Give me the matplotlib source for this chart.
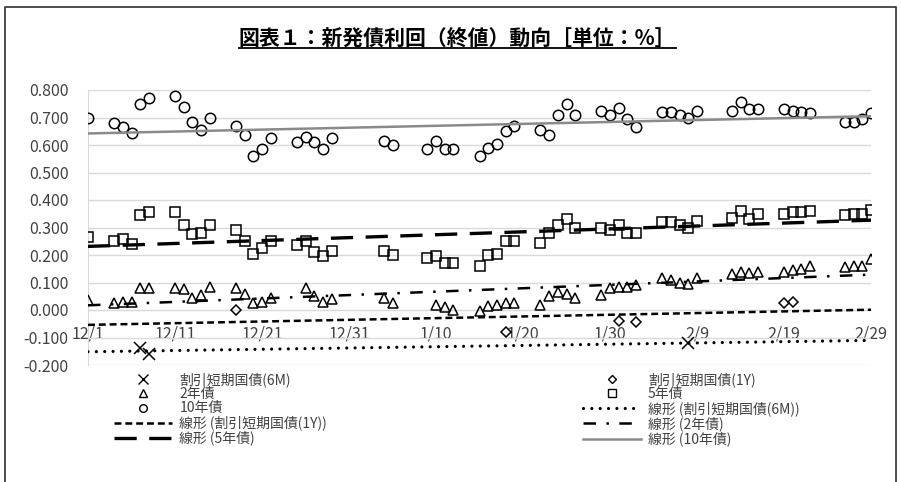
import numpy as np
import pandas as pd
import matplotlib
matplotlib.use('Agg')
import matplotlib.pyplot as plt
import matplotlib.dates as mdates
from matplotlib.lines import Line2D
from matplotlib.ticker import FuncFormatter

plt.rcParams['font.family'] = ['Noto Sans CJK JP', 'DejaVu Sans']
plt.rcParams['lines.scale_dashes'] = False

title = '図表１：新発債利回（終値）動向［単位：%］'

# trading days (month/day), Dec -> Feb
dates = ['12/01', '12/04', '12/05', '12/06', '12/07', '12/08',
         '12/11', '12/12', '12/13', '12/14', '12/15',
         '12/18', '12/19', '12/20', '12/21', '12/22',
         '12/25', '12/26', '12/27', '12/28', '12/29',
         '1/04', '1/05', '1/09', '1/10', '1/11', '1/12',
         '1/15', '1/16', '1/17', '1/18', '1/19',
         '1/22', '1/23', '1/24', '1/25', '1/26',
         '1/29', '1/30', '1/31', '2/01', '2/02',
         '2/05', '2/06', '2/07', '2/08', '2/09',
         '2/13', '2/14', '2/15', '2/16',
         '2/19', '2/20', '2/21', '2/22',
         '2/26', '2/27', '2/28', '2/29']

y10 = [0.700, 0.680, 0.665, 0.645, 0.750, 0.770,
       0.780, 0.740, 0.685, 0.655, 0.700,
       0.670, 0.635, 0.560, 0.585, 0.625,
       0.610, 0.630, 0.610, 0.585, 0.625,
       0.615, 0.600, 0.585, 0.615, 0.585, 0.585,
       0.560, 0.590, 0.605, 0.650, 0.670,
       0.655, 0.635, 0.710, 0.750, 0.710,
       0.725, 0.710, 0.735, 0.695, 0.665,
       0.720, 0.720, 0.710, 0.700, 0.725,
       0.725, 0.755, 0.730, 0.730,
       0.730, 0.725, 0.720, 0.715,
       0.685, 0.685, 0.695, 0.715]

y5 = [0.265, 0.250, 0.260, 0.240, 0.345, 0.355,
      0.355, 0.310, 0.275, 0.280, 0.310,
      0.290, 0.250, 0.205, 0.225, 0.250,
      0.235, 0.250, 0.210, 0.195, 0.215,
      0.215, 0.200, 0.190, 0.195, 0.170, 0.170,
      0.160, 0.200, 0.205, 0.250, 0.250,
      0.245, 0.280, 0.310, 0.330, 0.300,
      0.300, 0.290, 0.310, 0.280, 0.280,
      0.320, 0.320, 0.310, 0.300, 0.325,
      0.335, 0.360, 0.330, 0.350,
      0.350, 0.355, 0.355, 0.360,
      0.345, 0.350, 0.350, 0.365]

y2 = [0.035, 0.025, 0.030, 0.030, 0.080, 0.080,
      0.080, 0.075, 0.045, 0.055, 0.085,
      0.080, 0.060, 0.025, 0.030, 0.045,
      np.nan, 0.080, 0.050, 0.030, 0.040,
      0.045, 0.025, np.nan, 0.020, 0.010, 0.000,
      -0.005, 0.015, 0.020, 0.025, 0.025,
      0.020, 0.050, 0.065, 0.060, 0.045,
      0.055, 0.080, 0.085, 0.085, 0.090,
      0.115, 0.110, 0.100, 0.095, 0.115,
      0.130, 0.140, 0.135, 0.140,
      0.140, 0.145, 0.150, 0.160,
      0.155, 0.160, 0.160, 0.185]

bill6m_dates = ['12/07', '12/08', '2/08']
bill6m = [-0.138, -0.160, -0.120]

bill1y_dates = ['12/18', '1/18', '1/31', '2/02', '2/19', '2/20']
bill1y = [0.000, -0.080, -0.040, -0.045, 0.025, 0.030]

lbl_6m = '割引短期国債(6M)'
lbl_1y = '割引短期国債(1Y)'
lbl_2y = '2年債'
lbl_5y = '5年債'
lbl_10y = '10年債'


def to_dt(md):
    m, d = md.split('/')
    year = 2015 if m == '12' else 2016
    return pd.Timestamp(year=year, month=int(m), day=int(d))


x_main = [to_dt(s) for s in dates]
x_6m = [to_dt(s) for s in bill6m_dates]
x_1y = [to_dt(s) for s in bill1y_dates]
x_start, x_end = pd.Timestamp('2015-12-01'), pd.Timestamp('2016-02-29')

fig = plt.figure(figsize=(9.01, 4.82), dpi=100)
ax = fig.add_axes([88 / 901, 1 - 365 / 482, 783 / 901, 275 / 482])

mk = dict(linestyle='none', mfc='none', mec='black', mew=1.1)
ax.plot(x_6m, bill6m, marker='x', ms=8, **mk, zorder=3)
ax.plot(x_1y, bill1y, marker='D', ms=5, **mk, zorder=3)
ax.plot(x_main, y2, marker='^', ms=7.5, **mk, zorder=3)
ax.plot(x_main, y5, marker='s', ms=7.5, **mk, zorder=3)
ax.plot(x_main, y10, marker='o', ms=7.5, **mk, zorder=3)

# linear trend lines (least squares on date)
trend_styles = {
    '6m': dict(color='black', lw=2.3, dashes=(0.01, 6.0), dash_capstyle='round'),
    '1y': dict(color='black', lw=1.8, dashes=(5.0, 2.8)),
    '2y': dict(color='black', lw=1.8, dashes=(9.0, 7.5, 1.8, 7.5)),
    '5y': dict(color='black', lw=2.4, dashes=(16.0, 9.0)),
    '10y': dict(color='#8a8a8a', lw=1.8),
}
series = {
    '6m': (x_6m, bill6m),
    '1y': (x_1y, bill1y),
    '2y': (x_main, y2),
    '5y': (x_main, y5),
    '10y': (x_main, y10),
}
xe = mdates.date2num([x_start, x_end])
for key, (xs, ys) in series.items():
    xn = mdates.date2num(xs)
    ya = np.array(ys, dtype=float)
    ok = ~np.isnan(ya)
    k, b = np.polyfit(xn[ok], ya[ok], 1)
    ax.plot(xe, k * xe + b, zorder=4, **trend_styles[key])

ax.set_xlim(mdates.date2num(x_start), mdates.date2num(x_end))
ax.set_ylim(-0.2, 0.8)
ax.set_yticks(np.arange(-0.2, 0.81, 0.1))
ax.yaxis.set_major_formatter(FuncFormatter(lambda v, p: f'{v:.3f}'))
ax.set_xticks(pd.date_range(x_start, x_end, freq='10D'))


def md_fmt(v, p):
    d = mdates.num2date(v)
    return f'{d.month}/{d.day}'


ax.xaxis.set_major_formatter(FuncFormatter(md_fmt))
ax.grid(axis='y', color='#d9d9d9', lw=1)
ax.set_axisbelow(True)
for s in ['top', 'right']:
    ax.spines[s].set_visible(False)
ax.spines['left'].set_color('#d9d9d9')
ax.spines['bottom'].set_color('#d9d9d9')
ax.spines['bottom'].set_position(('data', 0))
ax.tick_params(axis='both', length=0, labelsize=11.5, labelcolor='#404040')
ax.tick_params(axis='x', pad=11)
ax.tick_params(axis='y', pad=14)

# legend (Excel order, row by row in two columns)
def mh(marker, ms):
    return Line2D([], [], linestyle='none', marker=marker, ms=ms, mfc='none',
                  mec='black', mew=1.0)

def lh(key):
    return Line2D([], [], **trend_styles[key])

col1 = [(mh('x', 7), lbl_6m), (mh('^', 5.5), lbl_2y), (mh('o', 5.5), lbl_10y),
        (lh('1y'), f'線形 ({lbl_1y})'), (lh('5y'), f'線形 ({lbl_5y})')]
col2 = [(mh('D', 4.5), lbl_1y), (mh('s', 5.5), lbl_5y), (lh('6m'), f'線形 ({lbl_6m})'),
        (lh('2y'), f'線形 ({lbl_2y})'), (lh('10y'), f'線形 ({lbl_10y})')]
handles = [h for h, _ in col1 + col2]
labels = [t for _, t in col1 + col2]
leg = fig.legend(handles, labels, ncol=2, loc='upper left',
                 bbox_to_anchor=(114 / 901, 1 - 372 / 482), frameon=False,
                 fontsize=10, handlelength=4.2, handletextpad=0.5,
                 columnspacing=18.4, labelspacing=0.02, borderpad=0,
                 borderaxespad=0)
for t in leg.get_texts():
    t.set_color('#404040')

# title with underline
tt = fig.text(0.508, 1 - 38 / 482, title, ha='center', va='center',
              fontsize=15, fontweight='bold', color='black')
fig.canvas.draw()
bb = tt.get_window_extent().transformed(fig.transFigure.inverted())
fig.add_artist(Line2D([bb.x0, bb.x1], [bb.y0 + 0.002] * 2, color='black', lw=1.3))

# chart area border
fig.add_artist(Line2D([5 / 901, 5 / 901, 896 / 901, 896 / 901],
                      [0, 1 - 7 / 482, 1 - 7 / 482, 0], color='#404040', lw=1.3))

fig.savefig('out.png', dpi=100)
